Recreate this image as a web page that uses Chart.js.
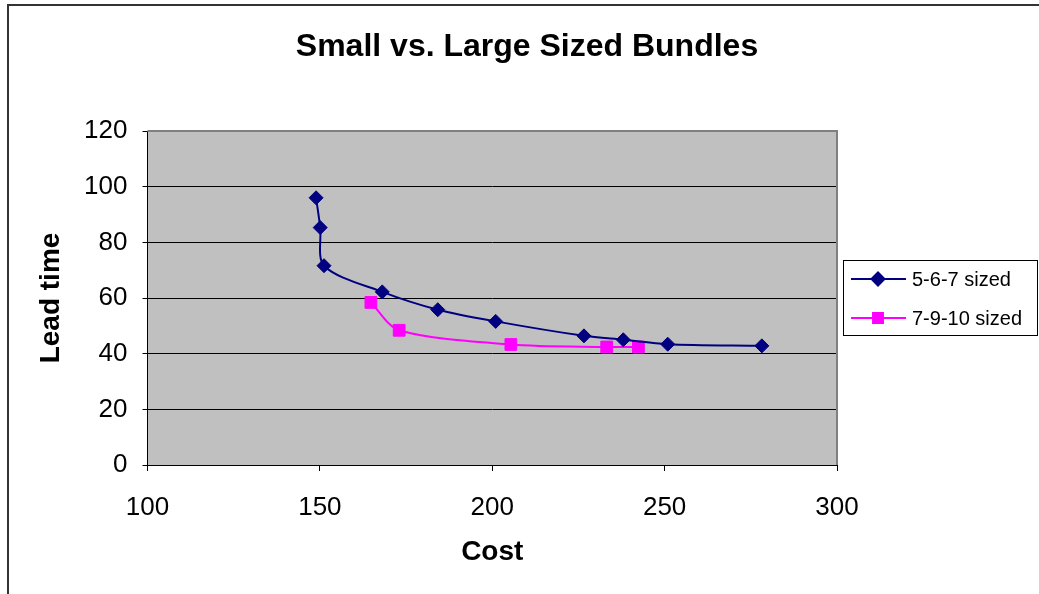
<!DOCTYPE html>
<html>
<head>
<meta charset="utf-8">
<script src="https://cdn.jsdelivr.net/npm/chart.js@4.4.0/dist/chart.umd.min.js"></script>
<style>
    html, body { margin: 0; padding: 0; background: #fff; }
    #chart { display: block; }
</style>
</head>
<body>
<canvas id="chart" width="1039" height="594"></canvas>
<script>
// Data
const seriesNames = ["5-6-7 sized", "7-9-10 sized"];
const smallCost = [148.9, 150.1, 151.2, 168.1, 184.2, 201.0, 226.6, 238.0, 250.9, 278.2];
const smallLead = [96.0, 85.3, 71.6, 62.2, 55.8, 51.6, 46.4, 45.0, 43.4, 42.8];
const largeCost = [164.8, 173.0, 205.4, 233.2, 242.4];
const largeLead = [58.4, 48.4, 43.3, 42.4, 42.4];
const costTicks = [100, 150, 200, 250, 300];
const leadTicks = [0, 20, 40, 60, 80, 100, 120];

const FONT = "'Liberation Sans', Arial, sans-serif";
const toPoints = (xs, ys) => xs.map((x, i) => ({ x: x, y: ys[i] }));

// Grey plot background, plot border, outer frame and boxed legend
const excelLook = {
    id: "excelLook",
    beforeDraw(chart) {
        const { ctx, chartArea: a } = chart;
        ctx.save();
        ctx.fillStyle = "#c0c0c0";
        ctx.fillRect(a.left, a.top, a.right - a.left, a.bottom - a.top);
        ctx.restore();
    },
    afterDraw(chart) {
        const { ctx, chartArea: a } = chart;
        ctx.save();
        // plot border top / right
        ctx.strokeStyle = "#808080";
        ctx.lineWidth = 2;
        ctx.beginPath();
        ctx.moveTo(a.left, a.top);
        ctx.lineTo(a.right, a.top);
        ctx.lineTo(a.right, a.bottom);
        ctx.stroke();

        // outer frame
        ctx.strokeStyle = "#333";
        ctx.lineWidth = 2;
        ctx.beginPath();
        ctx.moveTo(8, 594);
        ctx.lineTo(8, 5);
        ctx.lineTo(1039, 5);
        ctx.stroke();

        // legend box
        ctx.strokeStyle = "#000";
        ctx.lineWidth = 1;
        ctx.strokeRect(843.5, 260.5, 194, 75);
        ctx.font = "20px " + FONT;
        ctx.textBaseline = "middle";
        ctx.textAlign = "left";
        chart.data.datasets.forEach((ds, i) => {
            const y = 279 + i * 39;
            ctx.strokeStyle = ds.borderColor;
            ctx.lineWidth = 2;
            ctx.beginPath();
            ctx.moveTo(851, y);
            ctx.lineTo(906, y);
            ctx.stroke();
            Chart.helpers.drawPoint(ctx, {
                pointStyle: ds.pointStyle,
                radius: ds.pointStyle === "rect" ? 7 : 6.5,
                borderWidth: 1
            }, 878, y);
            ctx.fillStyle = ds.pointBackgroundColor;
            ctx.fill();
            ctx.fillStyle = "#000";
            ctx.fillText(ds.label, 912, y + 1);
        });
        ctx.restore();
    }
};

const ctx = document.getElementById("chart").getContext("2d");
new Chart(ctx, {
    type: "scatter",
    data: {
        datasets: [
            {
                label: seriesNames[0],
                data: toPoints(smallCost, smallLead),
                showLine: true,
                tension: 0.3,
                borderColor: "#000080",
                borderWidth: 2,
                pointStyle: "rectRot",
                pointRadius: 7,
                pointBackgroundColor: "#000080",
                pointBorderColor: "#000080",
                pointBorderWidth: 1
            },
            {
                label: seriesNames[1],
                data: toPoints(largeCost, largeLead),
                showLine: true,
                tension: 0.3,
                borderColor: "#ff00ff",
                borderWidth: 2,
                pointStyle: "rect",
                pointRadius: 8.3,
                pointBackgroundColor: "#ff00ff",
                pointBorderColor: "#ff00ff",
                pointBorderWidth: 1
            }
        ]
    },
    options: {
        responsive: false,
        animation: false,
        layout: { padding: { left: 15, top: 0, right: 0, bottom: 0 } },
        plugins: {
            legend: { display: false },
            tooltip: { enabled: false },
            title: {
                display: true,
                text: "Small vs. Large Sized Bundles",
                color: "#000",
                font: { family: FONT, size: 32, weight: "bold", lineHeight: 1.2 },
                padding: { top: 28, bottom: 64.6 }
            }
        },
        scales: {
            x: {
                type: "linear",
                min: costTicks[0],
                max: costTicks[costTicks.length - 1],
                afterBuildTicks: (scale) => { scale.ticks = costTicks.map(v => ({ value: v })); },
                afterFit: (scale) => { scale.height = 129; },
                ticks: {
                    color: "#000",
                    padding: 21,
                    maxRotation: 0,
                    font: { family: FONT, size: 26 }
                },
                grid: {
                    drawOnChartArea: false,
                    drawTicks: true,
                    tickLength: 6,
                    tickColor: "#000"
                },
                border: { color: "#000", width: 1 },
                title: {
                    display: true,
                    text: "Cost",
                    color: "#000",
                    font: { family: FONT, size: 28, weight: "bold", lineHeight: 1.2 },
                    padding: { top: 0, bottom: 25 }
                }
            },
            y: {
                type: "linear",
                min: leadTicks[0],
                max: leadTicks[leadTicks.length - 1],
                afterBuildTicks: (scale) => { scale.ticks = leadTicks.map(v => ({ value: v })); },
                afterFit: (scale) => { scale.width = 132.5; },
                ticks: {
                    color: "#000",
                    padding: 15,
                    font: { family: FONT, size: 26 }
                },
                grid: {
                    color: "#000",
                    lineWidth: 1,
                    drawTicks: true,
                    tickLength: 5,
                    tickColor: "#000"
                },
                border: { color: "#000", width: 1 },
                title: {
                    display: true,
                    text: "Lead time",
                    color: "#000",
                    font: { family: FONT, size: 28, weight: "bold", lineHeight: 1.2 },
                    padding: { top: 19, bottom: 0 }
                }
            },
            // empty right-hand scale that keeps room for the legend
            legendSpace: {
                type: "linear",
                position: "right",
                afterFit: (scale) => { scale.width = 202; },
                ticks: { display: false },
                grid: { display: false },
                border: { display: false }
            }
        }
    },
    plugins: [excelLook]
});
</script>
</body>
</html>
